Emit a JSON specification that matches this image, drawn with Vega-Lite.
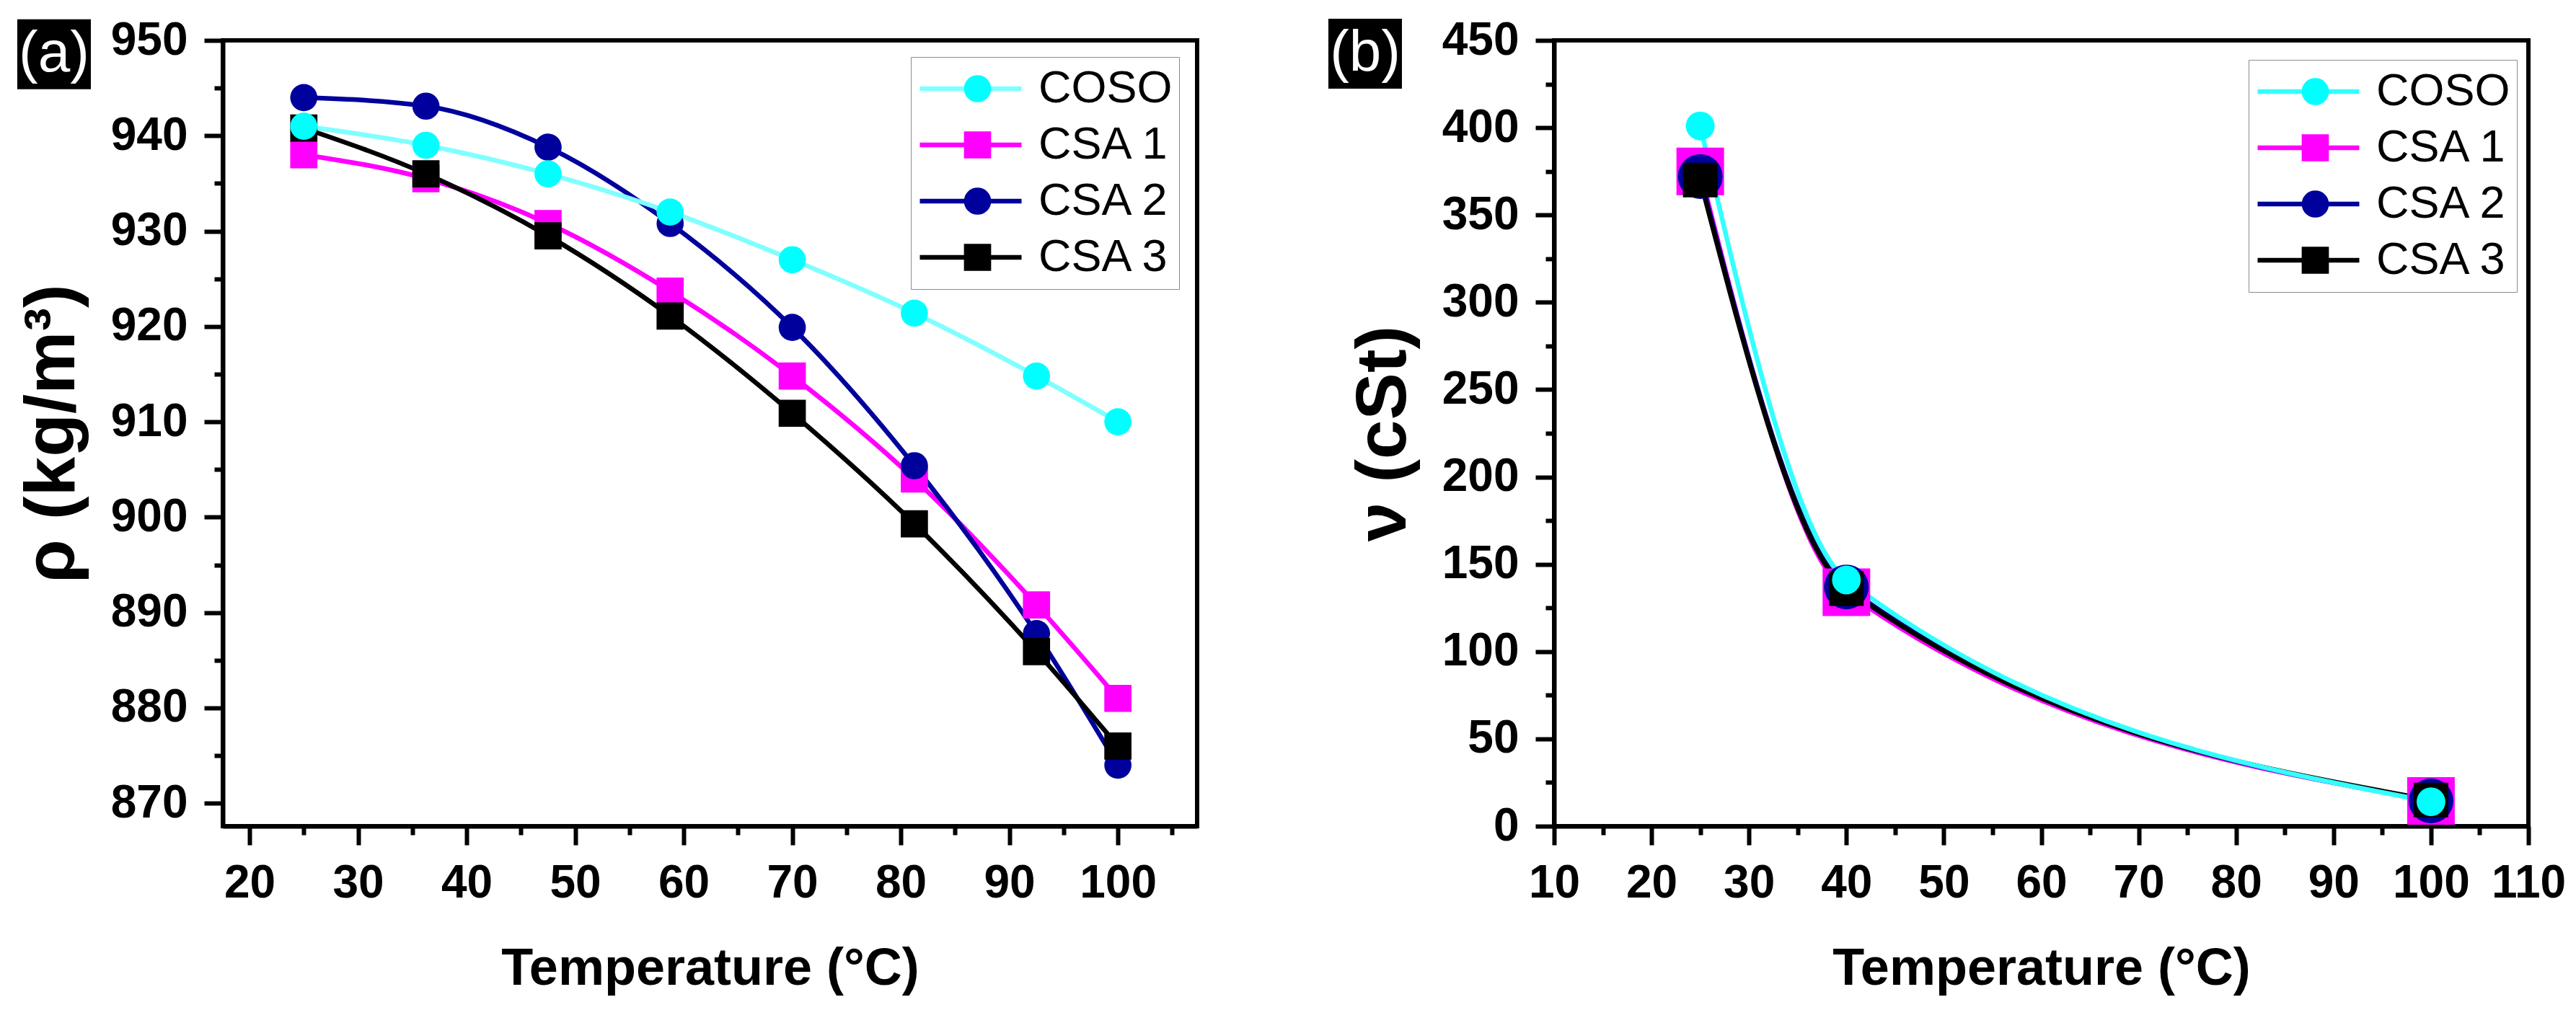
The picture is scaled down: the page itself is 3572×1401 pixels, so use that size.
{
  "$schema": "https://vega.github.io/schema/vega-lite/v6.json",
  "background": "white",
  "padding": {"left": 20, "top": 21, "right": 20, "bottom": 20},
  "bounds": "flush",
  "spacing": 495,
  "resolve": {
    "scale": {"color": "independent", "shape": "independent", "stroke": "independent"},
    "legend": {"color": "independent", "shape": "independent", "stroke": "independent"}
  },
  "config": {
    "font": "Liberation Sans",
    "view": {"stroke": "black", "strokeWidth": 6},
    "axis": {
      "grid": false,
      "domainColor": "black",
      "domainWidth": 6,
      "tickColor": "black",
      "tickWidth": 6,
      "tickSize": 26,
      "labelFont": "Liberation Sans",
      "labelFontSize": 64,
      "labelFontWeight": "bold",
      "labelColor": "black",
      "labelFlush": false,
      "labelOverlap": false,
      "titleFont": "Liberation Sans",
      "titleFontWeight": "bold",
      "titleColor": "black"
    },
    "legend": {
      "title": null,
      "orient": "none",
      "padding": 9,
      "labelFont": "Liberation Sans",
      "labelFontSize": 63,
      "labelFontWeight": "normal",
      "labelColor": "black",
      "labelLimit": 500,
      "labelOffset": 20,
      "clipHeight": 70,
      "rowPadding": 8
    }
  },
  "datasets": {
    "density": [
      {"sample": "CSA 1", "T": 25, "rho": 938},
      {"sample": "CSA 1", "T": 36.25, "rho": 935.5},
      {"sample": "CSA 1", "T": 47.5, "rho": 930.8},
      {"sample": "CSA 1", "T": 58.75, "rho": 923.7},
      {"sample": "CSA 1", "T": 70, "rho": 914.8},
      {"sample": "CSA 1", "T": 81.25, "rho": 904},
      {"sample": "CSA 1", "T": 92.5, "rho": 890.8},
      {"sample": "CSA 1", "T": 100, "rho": 881},
      {"sample": "CSA 2", "T": 25, "rho": 944},
      {"sample": "CSA 2", "T": 36.25, "rho": 943.1},
      {"sample": "CSA 2", "T": 47.5, "rho": 938.8},
      {"sample": "CSA 2", "T": 58.75, "rho": 930.8},
      {"sample": "CSA 2", "T": 70, "rho": 919.9},
      {"sample": "CSA 2", "T": 81.25, "rho": 905.4},
      {"sample": "CSA 2", "T": 92.5, "rho": 887.8},
      {"sample": "CSA 2", "T": 100, "rho": 874},
      {"sample": "CSA 3", "T": 25, "rho": 940.8},
      {"sample": "CSA 3", "T": 36.25, "rho": 936},
      {"sample": "CSA 3", "T": 47.5, "rho": 929.5},
      {"sample": "CSA 3", "T": 58.75, "rho": 921.1},
      {"sample": "CSA 3", "T": 70, "rho": 910.9},
      {"sample": "CSA 3", "T": 81.25, "rho": 899.3},
      {"sample": "CSA 3", "T": 92.5, "rho": 885.9},
      {"sample": "CSA 3", "T": 100, "rho": 876},
      {"sample": "COSO", "T": 25, "rho": 941},
      {"sample": "COSO", "T": 36.25, "rho": 939},
      {"sample": "COSO", "T": 47.5, "rho": 936},
      {"sample": "COSO", "T": 58.75, "rho": 932},
      {"sample": "COSO", "T": 70, "rho": 927},
      {"sample": "COSO", "T": 81.25, "rho": 921.4},
      {"sample": "COSO", "T": 92.5, "rho": 914.8},
      {"sample": "COSO", "T": 100, "rho": 910}
    ],
    "viscosity": [
      {"sample": "CSA 1", "T": 25, "nu": 375},
      {"sample": "CSA 1", "T": 40, "nu": 134},
      {"sample": "CSA 1", "T": 100, "nu": 14.5},
      {"sample": "CSA 2", "T": 25, "nu": 372},
      {"sample": "CSA 2", "T": 40, "nu": 137},
      {"sample": "CSA 2", "T": 100, "nu": 14.5},
      {"sample": "CSA 3", "T": 25, "nu": 370},
      {"sample": "CSA 3", "T": 40, "nu": 136},
      {"sample": "CSA 3", "T": 100, "nu": 15},
      {"sample": "COSO", "T": 25, "nu": 401},
      {"sample": "COSO", "T": 40, "nu": 141},
      {"sample": "COSO", "T": 100, "nu": 14}
    ]
  },
  "hconcat": [
    {
      "width": 1351,
      "height": 1090,
      "data": {"name": "density"},
      "layer": [
        {
          "mark": {"type": "line", "interpolate": "monotone", "strokeWidth": 6.5},
          "encoding": {
            "x": {
              "field": "T", "type": "quantitative",
              "scale": {"domain": [17.54, 107.3], "nice": false, "zero": false},
              "axis": {"orient": "bottom", "values": [25, 35, 45, 55, 65, 75, 85, 95, 105], "labels": false, "domain": false, "tickSize": 12, "title": null}
            },
            "y": {
              "field": "rho", "type": "quantitative",
              "scale": {"domain": [867.6, 950], "nice": false, "zero": false},
              "axis": {"orient": "left", "values": [875, 885, 895, 905, 915, 925, 935, 945], "labels": false, "domain": false, "tickSize": 12, "title": null}
            },
            "stroke": {
              "field": "sample", "type": "nominal",
              "scale": {"domain": ["COSO", "CSA 1", "CSA 2", "CSA 3"], "range": ["#80FFFF", "#FF00FF", "#00009C", "#000000"]},
              "legend": {
                "legendX": 954, "legendY": 23, "zindex": 0,
                "fillColor": "white", "strokeColor": "#8c8c8c",
                "symbolType": "stroke", "symbolSize": 19881, "symbolStrokeWidth": 6.5
              }
            }
          }
        },
        {
          "mark": {"type": "point", "filled": true, "opacity": 1, "size": 1420},
          "encoding": {
            "x": {
              "field": "T", "type": "quantitative",
              "scale": {"domain": [17.54, 107.3], "nice": false, "zero": false},
              "axis": {"orient": "bottom", "values": [20, 30, 40, 50, 60, 70, 80, 90, 100], "title": "Temperature (°C)", "titleFontSize": 72, "labelPadding": 21, "titlePadding": 51, "labelFlush": false}
            },
            "y": {
              "field": "rho", "type": "quantitative",
              "scale": {"domain": [867.6, 950], "nice": false, "zero": false},
              "axis": {"orient": "left", "values": [870, 880, 890, 900, 910, 920, 930, 940, 950], "title": "ρ (kg/m³)", "titleFontSize": 98, "labelPadding": 23, "titlePadding": 30, "labelFlush": false}
            },
            "color": {
              "field": "sample", "type": "nominal",
              "scale": {"range": ["#00FFFF", "#FF00FF", "#00009C", "#000000"]},
              "legend": {
                "legendX": 1006, "legendY": 23, "zindex": 1,
                "symbolSize": 1420, "labelExpr": "''", "symbolOpacity": 1
              }
            },
            "shape": {
              "field": "sample", "type": "nominal",
              "scale": {"range": ["circle", "square", "circle", "square"]},
              "legend": {
                "legendX": 1006, "legendY": 23, "zindex": 1,
                "symbolSize": 1420, "labelExpr": "''", "symbolOpacity": 1
              }
            }
          }
        },
        {
          "data": {"values": [{"tag": "(a)"}]},
          "mark": {"type": "rect", "color": "black"},
          "encoding": {
            "x": {"datum": -1.4, "type": "quantitative", "scale": {"domain": [17.54, 107.3], "nice": false, "zero": false}, "axis": null},
            "x2": {"datum": 5.38},
            "y": {"datum": 952.21, "type": "quantitative", "scale": {"domain": [867.6, 950], "nice": false, "zero": false}, "axis": null},
            "y2": {"datum": 944.88}
          }
        },
        {
          "data": {"values": [{"tag": "(a)"}]},
          "mark": {"type": "text", "color": "white", "fontSize": 80, "font": "Liberation Sans", "baseline": "middle", "align": "center"},
          "encoding": {
            "x": {"datum": 1.99, "type": "quantitative", "scale": {"domain": [17.54, 107.3], "nice": false, "zero": false}, "axis": null},
            "y": {"datum": 948.55, "type": "quantitative", "scale": {"domain": [867.6, 950], "nice": false, "zero": false}, "axis": null},
            "text": {"field": "tag"}
          }
        }
      ],
      "resolve": {"axis": {"x": "independent", "y": "independent"}}
    },
    {
      "width": 1351,
      "height": 1090,
      "data": {"name": "viscosity"},
      "layer": [
        {
          "mark": {"type": "line", "interpolate": "monotone", "strokeWidth": 6.5},
          "encoding": {
            "x": {
              "field": "T", "type": "quantitative",
              "scale": {"domain": [10, 110], "nice": false, "zero": false},
              "axis": {"orient": "bottom", "values": [15, 25, 35, 45, 55, 65, 75, 85, 95, 105], "labels": false, "domain": false, "tickSize": 12, "title": null}
            },
            "y": {
              "field": "nu", "type": "quantitative",
              "scale": {"domain": [0, 450], "nice": false, "zero": false},
              "axis": {"orient": "left", "values": [25, 75, 125, 175, 225, 275, 325, 375, 425], "labels": false, "domain": false, "tickSize": 12, "title": null}
            },
            "stroke": {
              "field": "sample", "type": "nominal",
              "scale": {"domain": ["COSO", "CSA 1", "CSA 2", "CSA 3"], "range": ["#33FFFF", "#FF00FF", "#00009C", "#000000"]},
              "legend": {
                "legendX": 963, "legendY": 27, "zindex": 0,
                "fillColor": "white", "strokeColor": "#8c8c8c",
                "symbolType": "stroke", "symbolSize": 19881, "symbolStrokeWidth": 6.5
              }
            }
          }
        },
        {
          "mark": {"type": "point", "filled": true, "opacity": 1},
          "encoding": {
            "x": {
              "field": "T", "type": "quantitative",
              "scale": {"domain": [10, 110], "nice": false, "zero": false},
              "axis": {"orient": "bottom", "values": [10, 20, 30, 40, 50, 60, 70, 80, 90, 100, 110], "title": "Temperature (°C)", "titleFontSize": 72, "labelPadding": 21, "titlePadding": 51, "labelFlush": false}
            },
            "y": {
              "field": "nu", "type": "quantitative",
              "scale": {"domain": [0, 450], "nice": false, "zero": false},
              "axis": {"orient": "left", "values": [0, 50, 100, 150, 200, 250, 300, 350, 400, 450], "title": "ν (cSt)", "titleFontSize": 98, "labelPadding": 23, "titlePadding": 30, "labelFlush": false}
            },
            "color": {
              "field": "sample", "type": "nominal",
              "scale": {"range": ["#00FFFF", "#FF00FF", "#00009C", "#000000"]},
              "legend": {
                "legendX": 1015, "legendY": 27, "zindex": 1,
                "symbolSize": 1420, "labelExpr": "''", "symbolOpacity": 1
              }
            },
            "shape": {
              "field": "sample", "type": "nominal",
              "scale": {"range": ["circle", "square", "circle", "square"]},
              "legend": {
                "legendX": 1015, "legendY": 27, "zindex": 1,
                "symbolSize": 1420, "labelExpr": "''", "symbolOpacity": 1
              }
            },
            "size": {
              "condition": [
                {"test": "datum.sample === 'CSA 1'", "value": 4356},
                {"test": "datum.sample === 'CSA 2'", "value": 3848},
                {"test": "datum.sample === 'CSA 3'", "value": 2304}
              ],
              "value": 1590
            }
          }
        },
        {
          "data": {"values": [{"tag": "(b)"}]},
          "mark": {"type": "rect", "color": "black"},
          "encoding": {
            "x": {"datum": -13.17, "type": "quantitative", "scale": {"domain": [10, 110], "nice": false, "zero": false}, "axis": null},
            "x2": {"datum": -5.62},
            "y": {"datum": 462.4, "type": "quantitative", "scale": {"domain": [0, 450], "nice": false, "zero": false}, "axis": null},
            "y2": {"datum": 422.3}
          }
        },
        {
          "data": {"values": [{"tag": "(b)"}]},
          "mark": {"type": "text", "color": "white", "fontSize": 80, "font": "Liberation Sans", "baseline": "middle", "align": "center"},
          "encoding": {
            "x": {"datum": -9.39, "type": "quantitative", "scale": {"domain": [10, 110], "nice": false, "zero": false}, "axis": null},
            "y": {"datum": 442.4, "type": "quantitative", "scale": {"domain": [0, 450], "nice": false, "zero": false}, "axis": null},
            "text": {"field": "tag"}
          }
        }
      ],
      "resolve": {"axis": {"x": "independent", "y": "independent"}}
    }
  ]
}
